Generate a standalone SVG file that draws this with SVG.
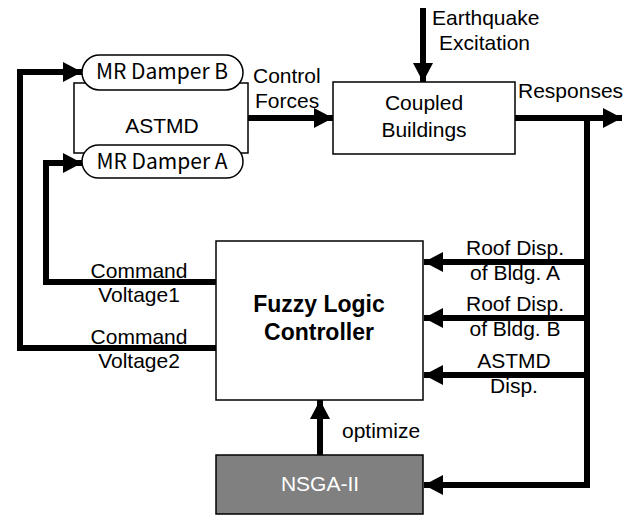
<svg xmlns="http://www.w3.org/2000/svg" width="636" height="515" viewBox="0 0 636 515">
<style>
text{font-family:"Liberation Sans",Arial,sans-serif;font-size:21px;fill:#000}
.k{font-family:"Noto Sans CJK KR","Liberation Sans",sans-serif;font-size:21px}
.b{font-weight:bold;font-size:23px}
.box{fill:#fff;stroke:#000;stroke-width:1.5}
.ln{fill:none;stroke:#000;stroke-width:6}
.m{text-anchor:middle}
</style>
<defs>
<marker id="ah" markerUnits="userSpaceOnUse" markerWidth="20" markerHeight="22" refX="19" refY="10" orient="auto" viewBox="0 0 20 20">
<path d="M0,0 L19,10 L0,20 Z" fill="#000"/>
</marker>
</defs>
<g id="astmd">
<rect class="box" x="74" y="83" width="174" height="70"/>
<text class="m" x="162" y="133">ASTMD</text>
</g>
<g id="mrB">
<rect class="box" x="82" y="55" width="161" height="35" rx="17.5"/>
<text class="k m" x="162" y="79">MR Damper B</text>
</g>
<g id="mrA">
<rect class="box" x="82" y="145" width="161" height="33" rx="16.5"/>
<text class="k m" x="162" y="169">MR Damper A</text>
</g>
<g id="coupled">
<rect class="box" x="333" y="82" width="182" height="72"/>
<text class="m" x="424" y="110">Coupled</text>
<text class="m" x="424" y="137">Buildings</text>
</g>
<g id="flc">
<rect class="box" x="216" y="241" width="207" height="159"/>
<text class="b m" x="319" y="312">Fuzzy Logic</text>
<text class="b m" x="319" y="340">Controller</text>
</g>
<g id="nsga">
<rect x="216" y="455" width="207" height="59" fill="#808080" stroke="#000" stroke-width="1.5"/>
<text class="m" x="320" y="491" style="fill:#fff">NSGA-II</text>
</g>
<g id="connectors">
<path class="ln" d="M423,8 V82" marker-end="url(#ah)"/>
<path class="ln" d="M248,118 H333" marker-end="url(#ah)"/>
<path class="ln" d="M515,118 H622" marker-end="url(#ah)"/>
<path class="ln" d="M587,118 V485"/>
<path class="ln" d="M587,262 H424" marker-end="url(#ah)"/>
<path class="ln" d="M587,318 H424" marker-end="url(#ah)"/>
<path class="ln" d="M587,375 H424" marker-end="url(#ah)"/>
<path class="ln" d="M590,485 H424" marker-end="url(#ah)"/>
<path class="ln" d="M320,455 V400" marker-end="url(#ah)"/>
<path class="ln" d="M216,348 H20 V72 H82" marker-end="url(#ah)"/>
<path class="ln" d="M216,282 H46 V163 H82" marker-end="url(#ah)"/>
<text x="432" y="25">Earthquake</text>
<text x="439" y="50">Excitation</text>
<text x="253" y="83">Control</text>
<text x="255" y="108">Forces</text>
<text x="518" y="98">Responses</text>
<text class="m" x="515" y="255">Roof Disp.</text>
<text class="m" x="515" y="280">of Bldg. A</text>
<text class="m" x="515" y="311">Roof Disp.</text>
<text class="m" x="515" y="336">of Bldg. B</text>
<text class="m" x="514" y="368">ASTMD</text>
<text class="m" x="514" y="393">Disp.</text>
<text class="m" x="139" y="278">Command</text>
<text class="m" x="139" y="302">Voltage1</text>
<text class="m" x="139" y="344">Command</text>
<text class="m" x="139" y="368">Voltage2</text>
<text x="342" y="438">optimize</text>
</g>
</svg>
